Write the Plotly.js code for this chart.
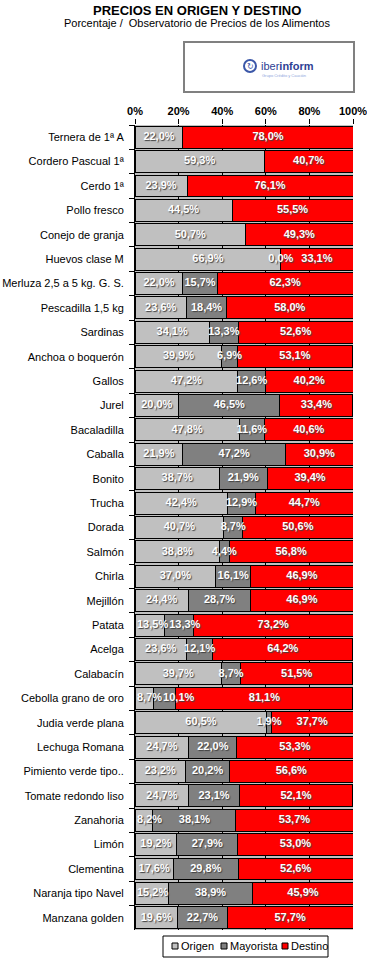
<!DOCTYPE html>
<html>
<head>
<meta charset="utf-8">
<script src="https://cdn.plot.ly/plotly-3.0.1.min.js"></script>
<style>
html,body{margin:0;padding:0;background:#fff;}
#chart{width:367px;height:960px;}
</style>
</head>
<body>
<div id="chart"></div>
<script>
const categories = [
  "Ternera de 1ª A", "Cordero Pascual 1ª", "Cerdo 1ª", "Pollo fresco", "Conejo de granja",
  "Huevos clase M", "Merluza 2,5 a 5 kg. G. S.", "Pescadilla 1,5 kg", "Sardinas", "Anchoa o boquerón",
  "Gallos", "Jurel", "Bacaladilla", "Caballa", "Bonito", "Trucha", "Dorada", "Salmón", "Chirla",
  "Mejillón", "Patata", "Acelga", "Calabacín", "Cebolla grano de oro", "Judia verde plana",
  "Lechuga Romana", "Pimiento verde tipo..", "Tomate redondo liso", "Zanahoria", "Limón",
  "Clementina", "Naranja tipo Navel", "Manzana golden"
];
const origen = [22.0, 59.3, 23.9, 44.5, 50.7, 66.9, 22.0, 23.6, 34.1, 39.9, 47.2, 20.0, 47.8, 21.9, 38.7, 42.4, 40.7, 38.8, 37.0, 24.4, 13.5, 23.6, 39.7, 8.7, 60.5, 24.7, 23.2, 24.7, 8.2, 19.2, 17.6, 15.2, 19.6];
const mayorista = [null, null, null, null, null, 0.0, 15.7, 18.4, 13.3, 6.9, 12.6, 46.5, 11.6, 47.2, 21.9, 12.9, 8.7, 4.4, 16.1, 28.7, 13.3, 12.1, 8.7, 10.1, 1.9, 22.0, 20.2, 23.1, 38.1, 27.9, 29.8, 38.9, 22.7];
const destino = [78.0, 40.7, 76.1, 55.5, 49.3, 33.1, 62.3, 58.0, 52.6, 53.1, 40.2, 33.4, 40.6, 30.9, 39.4, 44.7, 50.6, 56.8, 46.9, 46.9, 73.2, 64.2, 51.5, 81.1, 37.7, 53.3, 56.6, 52.1, 53.7, 53.0, 52.6, 45.9, 57.7];
const seriesNames = ["Origen", "Mayorista", "Destino"];
const seriesColors = ["#c0c0c0", "#808080", "#ff0000"];
const xTickVals = [0, 20, 40, 60, 80, 100];
const xTickText = ["0%", "20%", "40%", "60%", "80%", "100%"];

const FONT = "Arial, Liberation Sans, sans-serif";
const fmt = v => (v === null || v === undefined) ? "" : v.toFixed(1).replace(".", ",") + "%";

// plot area geometry (pixels)
const L = 135, R = 14, T = 125, B = 30, W = 367, H = 960;
const pw = W - L - R, ph = H - T - B;
const px = x => (x - L) / pw;
const py = y => (H - B - y) / ph;

const seriesValues = [origen, mayorista, destino];
const barTraces = seriesValues.map((vals, i) => ({
  type: "bar",
  orientation: "h",
  name: seriesNames[i],
  y: categories,
  x: vals,
  marker: {color: seriesColors[i], line: {color: "#000000", width: 1}},
  hoverinfo: "skip",
  showlegend: false
}));

// data labels: centred on each segment, nudged apart when they would collide (like Excel)
const charW = ch => (ch === "," ? 3.1 : ch === "%" ? 9.8 : 6.1);
const textW = s => s.split("").reduce((a, c) => a + charW(c), 0);
const labX = [], labY = [], labT = [];
categories.forEach((cat, r) => {
  let start = 0;
  const items = [];
  seriesValues.forEach(vals => {
    const v = vals[r];
    if (v === null || v === undefined) return;
    const t = fmt(v);
    items.push({c: L + (start + v / 2) / 100 * pw, w: textW(t), t});
    start += v;
  });
  let prevRight = L + 1;
  items.forEach(it => {
    let left = Math.max(it.c - it.w / 2, prevRight + 1);
    it.left = left;
    prevRight = left + it.w;
  });
  let limit = L + pw - 1;
  for (let k = items.length - 1; k >= 0; k--) {
    const it = items[k];
    if (it.left + it.w > limit) it.left = limit - it.w;
    limit = it.left - 1;
  }
  items.forEach(it => {
    labX.push(((it.left + it.w / 2) - L) / pw * 100);
    labY.push(cat);
    labT.push(it.t);
  });
});
const labelTrace = {
  type: "scatter", mode: "text", x: labX, y: labY, text: labT,
  textposition: "middle center", cliponaxis: false, hoverinfo: "skip", showlegend: false,
  textfont: {family: FONT, size: 11, color: "#ffffff", weight: "bold", shadow: "1px 1px 1px #404040"}
};

const shapes = [
  {type: "rect", xref: "paper", yref: "paper", x0: px(184), x1: px(354), y0: py(42), y1: py(92), line: {color: "#808080", width: 2}, fillcolor: "#ffffff", layer: "above"},
  {type: "circle", xref: "paper", yref: "paper", x0: px(244), x1: px(256), y0: py(60), y1: py(72), line: {color: "#3b57a8", width: 2}, layer: "above"},
  {type: "rect", xref: "paper", yref: "paper", x0: px(163), x1: px(328), y0: py(936), y1: py(957), line: {color: "#000000", width: 1}, fillcolor: "#ffffff", layer: "above"}
];
const legendX = [172, 221, 282];
const annotations = [
  {text: "<b>PRECIOS EN ORIGEN Y DESTINO</b>", xref: "paper", yref: "paper", x: px(197), y: py(10), xanchor: "center", yanchor: "middle", showarrow: false, font: {family: FONT, size: 13, color: "#000"}},
  {text: "Porcentaje /  Observatorio de Precios de los Alimentos", xref: "paper", yref: "paper", x: px(197), y: py(23), xanchor: "center", yanchor: "middle", showarrow: false, font: {family: FONT, size: 11, color: "#000"}},
  {text: "iber<b>inform</b>", xref: "paper", yref: "paper", x: px(259), y: py(66), xanchor: "left", yanchor: "middle", showarrow: false, font: {family: FONT, size: 11, color: "#2e3f94"}},
  {text: "Grupo Crédito y Caución", xref: "paper", yref: "paper", x: px(260), y: py(76), xanchor: "left", yanchor: "middle", showarrow: false, font: {family: FONT, size: 4, color: "#8ea6db"}},
  {text: "↻", xref: "paper", yref: "paper", x: px(250), y: py(66), xanchor: "center", yanchor: "middle", showarrow: false, font: {family: "DejaVu Sans, sans-serif", size: 8, color: "#3b57a8"}}
];
seriesNames.forEach((n, i) => {
  shapes.push({type: "rect", xref: "paper", yref: "paper", x0: px(legendX[i]), x1: px(legendX[i] + 6), y0: py(943), y1: py(949), line: {color: "#000", width: 1}, fillcolor: seriesColors[i], layer: "above"});
  annotations.push({text: n, xref: "paper", yref: "paper", x: px(legendX[i] + 7), y: py(946), xanchor: "left", yanchor: "middle", showarrow: false, font: {family: FONT, size: 11, color: "#000"}});
});

const layout = {
  width: W, height: H,
  margin: {l: L, r: R, t: T, b: B, pad: 0},
  paper_bgcolor: "#ffffff",
  plot_bgcolor: "#c0c0c0",
  barmode: "stack",
  bargap: 0.1,
  showlegend: false,
  xaxis: {
    side: "top", range: [0, 100], autorange: false, tickvals: xTickVals, ticktext: xTickText,
    ticks: "outside", ticklen: 5, tickcolor: "#000", tickwidth: 1,
    showgrid: true, gridcolor: "#000000", gridwidth: 1,
    showline: false, zeroline: false, fixedrange: true, ticklabeloverflow: "allow",
    tickfont: {family: FONT, size: 11, color: "#000", weight: "bold"}
  },
  yaxis: {
    type: "category", categoryorder: "array", categoryarray: categories,
    range: [categories.length - 0.5, -0.5], autorange: false,
    showline: true, linecolor: "#000", linewidth: 1,
    ticks: "outside", tickson: "boundaries", ticklen: 5, tickcolor: "#000",
    ticklabelstandoff: 8,
    showgrid: false, zeroline: false, fixedrange: true,
    tickfont: {family: FONT, size: 11, color: "#000"}
  },
  shapes: shapes,
  annotations: annotations
};

Plotly.newPlot("chart", barTraces.concat([labelTrace]), layout, {displayModeBar: false, staticPlot: true});
</script>
</body>
</html>
